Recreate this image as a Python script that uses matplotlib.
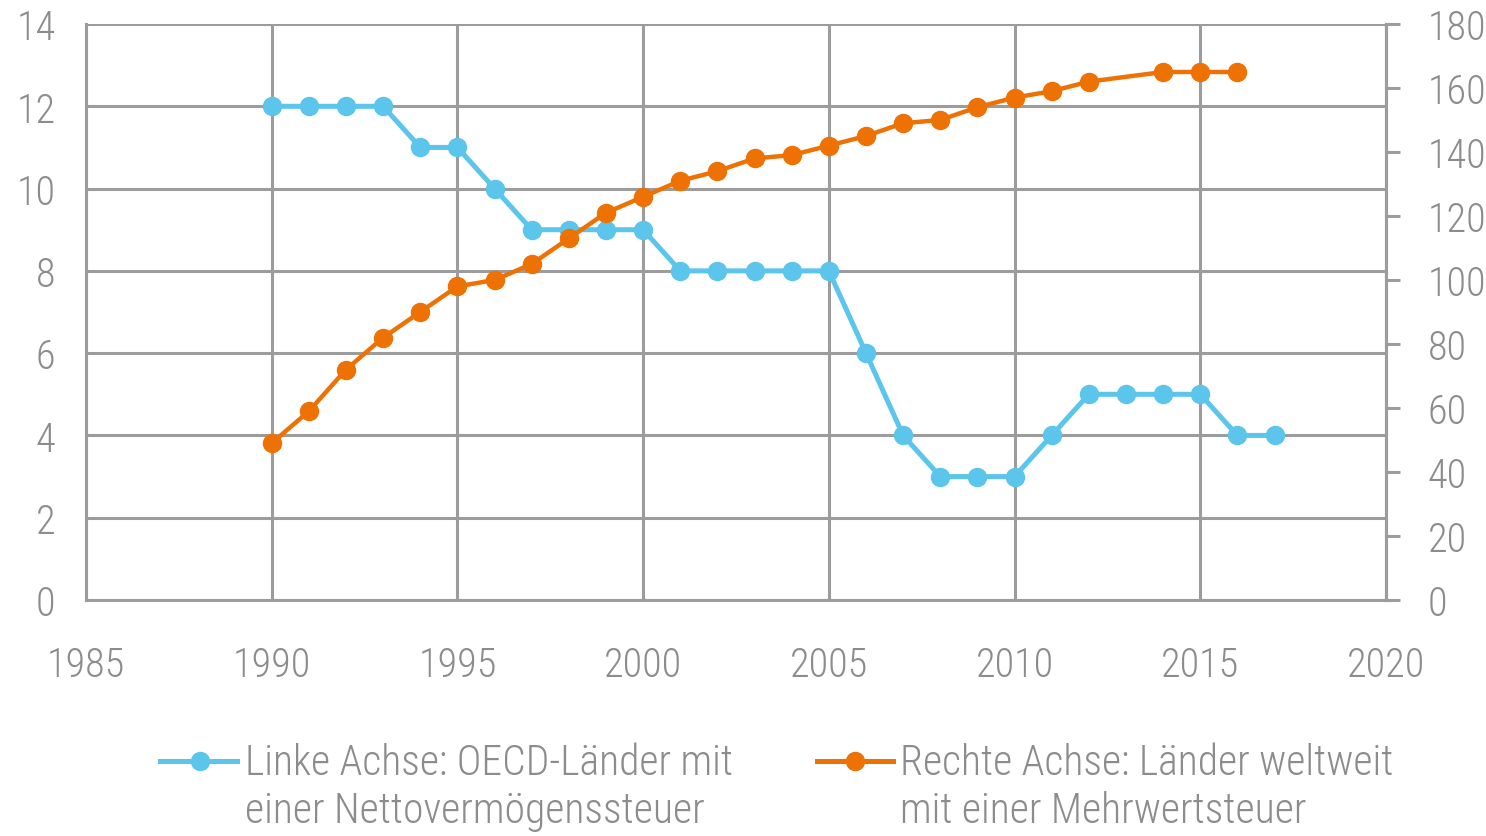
import numpy as np
import matplotlib.pyplot as plt
from matplotlib.lines import Line2D
from matplotlib import font_manager

### Data
years_oecd = [1990, 1991, 1992, 1993, 1994, 1995, 1996, 1997, 1998, 1999, 2000,
              2001, 2002, 2003, 2004, 2005, 2006, 2007, 2008, 2009, 2010,
              2011, 2012, 2013, 2014, 2015, 2016, 2017]
oecd_wealth_tax = [12, 12, 12, 12, 11, 11, 10, 9, 9, 9, 9,
                   8, 8, 8, 8, 8, 6, 4, 3, 3, 3,
                   4, 5, 5, 5, 5, 4, 4]

years_vat = [1990, 1991, 1992, 1993, 1994, 1995, 1996, 1997, 1998, 1999, 2000,
             2001, 2002, 2003, 2004, 2005, 2006, 2007, 2008, 2009, 2010,
             2011, 2012, 2014, 2015, 2016]
vat_countries = [49, 59, 72, 82, 90, 98, 100, 105, 113, 121, 126,
                 131, 134, 138, 139, 142, 145, 149, 150, 154, 157,
                 159, 162, 165, 165, 165]

label_left = ["Linke Achse: OECD-Länder mit", "einer Nettovermögenssteuer"]
label_right = ["Rechte Achse: Länder weltweit", "mit einer Mehrwertsteuer"]

# look for a narrow font, else condensed DejaVu
names = {f.name for f in font_manager.fontManager.ttflist}
family = 'DejaVu Sans'
for cand in ['Roboto Condensed', 'Liberation Sans Narrow', 'Open Sans Condensed']:
    if cand in names:
        family = cand
        break
plt.rcParams['font.family'] = [family, 'DejaVu Sans']
plt.rcParams['font.stretch'] = 'condensed'
plt.rcParams['font.weight'] = 'light'
fs = 29 if family != 'DejaVu Sans' else 27

blue = '#5bc5ec'
orange = '#ee7203'
grid_c = '#9c9c9c'
text_c = '#8c8c8c'

W, H = 1486, 837
fig = plt.figure(figsize=(W / 100, H / 100), dpi=100)
ax = fig.add_axes([86 / W, 1 - 601 / H, 1300 / W, 576 / H])
ax2 = ax.twinx()

ax.set_xlim(1985, 2020)
ax.set_ylim(0, 14)
ax2.set_ylim(0, 180)
ax.set_xticks(np.arange(1985, 2021, 5))
ax.set_yticks(np.arange(0, 15, 2))
ax2.set_yticks(np.arange(0, 181, 20))

ax.grid(True, color=grid_c, linewidth=2.2)
ax.set_axisbelow(True)
for s in ['left', 'bottom', 'right']:
    ax.spines[s].set_color(grid_c)
    ax.spines[s].set_linewidth(2.2)
ax.spines['top'].set_visible(False)
for s in ['left', 'bottom', 'top']:
    ax2.spines[s].set_visible(False)
ax2.spines['right'].set_color(grid_c)
ax2.spines['right'].set_linewidth(2.2)

ax.tick_params(axis='both', length=0, labelsize=fs, labelcolor=text_c)
ax.tick_params(axis='y', pad=22)
ax.tick_params(axis='x', pad=33)
ax2.tick_params(axis='y', length=10, width=2.2, color=grid_c, labelsize=fs,
                labelcolor=text_c, pad=20)

ax.plot(years_oecd, oecd_wealth_tax, color=blue, linewidth=3.6, marker='o',
        markersize=13, zorder=3)
ax2.plot(years_vat, vat_countries, color=orange, linewidth=3.2, marker='o',
         markersize=13, zorder=3)
ax.set_zorder(2)
ax.patch.set_visible(False)
ax2.set_zorder(3)

### Legend drawn by hand in figure coordinates
def legend_entry(x0, x1, xm, xt, color, lines):
    y = 1 - 762 / H
    fig.add_artist(Line2D([x0 / W, x1 / W], [y, y], color=color, linewidth=3.6,
                          transform=fig.transFigure))
    fig.add_artist(Line2D([xm / W], [y], color=color, marker='o', markersize=13,
                          transform=fig.transFigure))
    fig.text(xt / W, 1 - 764 / H, lines[0], color=text_c, fontsize=fs + 1, va='center', ha='left')
    fig.text(xt / W, 1 - 812 / H, lines[1], color=text_c, fontsize=fs + 1, va='center', ha='left')

legend_entry(160, 237, 200, 245, blue, label_left)
legend_entry(817, 893, 855, 900, orange, label_right)

fig.savefig('out.png', dpi=100)
